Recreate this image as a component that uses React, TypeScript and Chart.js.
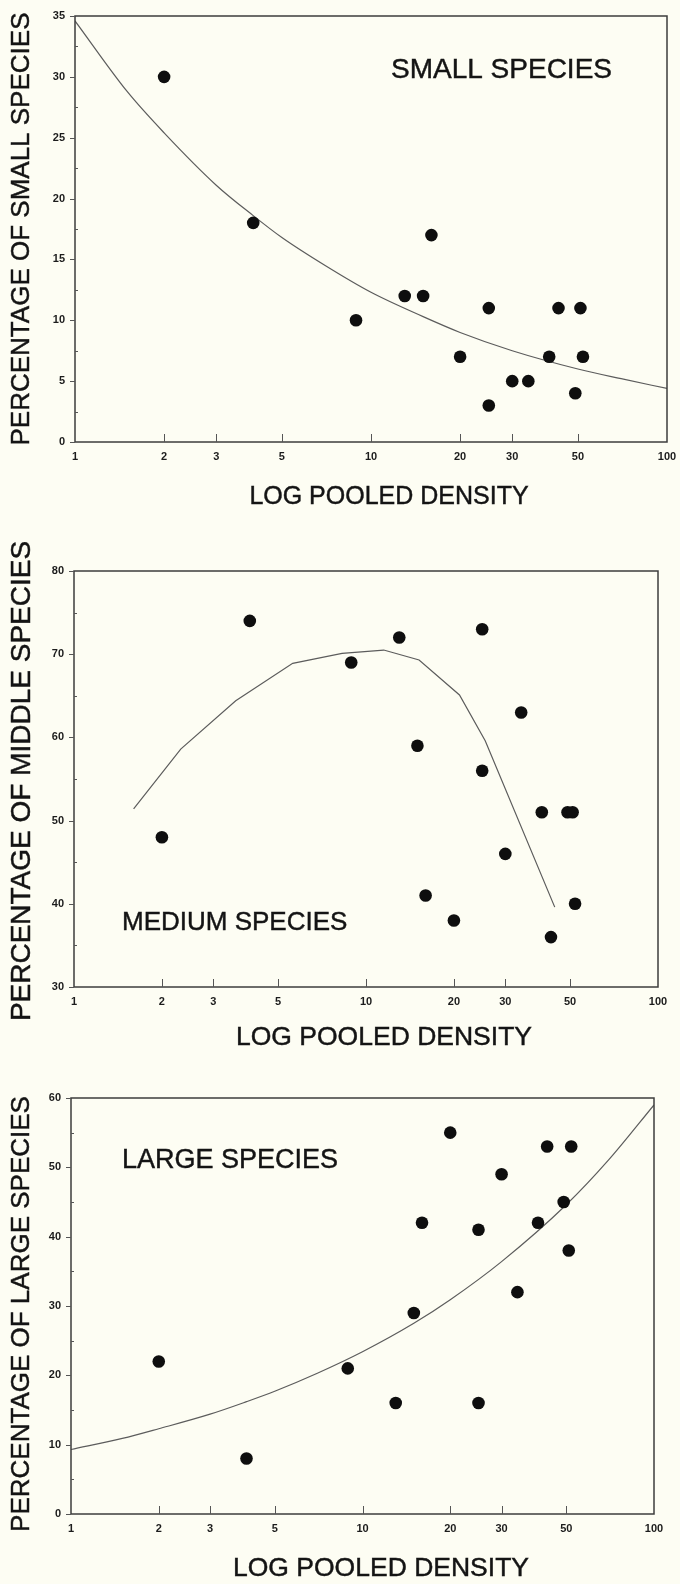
import React, { useEffect, useRef } from 'react';
import { Chart, registerables } from 'chart.js';

Chart.register(...registerables);

// ---------- data ----------
const density = [2, 4, 8.9, 13, 15, 16, 20, 25, 25, 30, 34, 40, 43, 49, 51, 52];
const smallPct = [30, 18, 10, 12, 12, 17, 7, 11, 3, 5, 5, 7, 11, 4, 11, 7];
const mediumPct = [48, 74, 69, 72, 59, 41, 38, 73, 56, 46, 63, 51, 36, 51, 51, 40];
const largePct = [22, 8, 21, 16, 29, 42, 55, 16, 41, 49, 32, 42, 53, 45, 38, 53];

const smallFitX = [1, 1.5, 2, 3, 4, 5, 7, 10, 15, 20, 30, 50, 70, 100];
const smallFitY = [34.6, 28.8, 25.4, 21.1, 18.6, 16.8, 14.5, 12.3, 10.3, 9.0, 7.5, 6.0, 5.2, 4.4];
const mediumFitX = [1.6, 2.32, 3.58, 5.61, 8.28, 11.5, 15.2, 20.9, 25.6, 44.3];
const mediumFitY = [51.4, 58.6, 64.4, 68.9, 70.1, 70.5, 69.3, 65.1, 59.6, 39.6];
const largeFitX = [1, 1.5, 2, 3, 4, 5, 7, 10, 15, 20, 30, 50, 70, 100];
const largeFitY = [9.3, 10.9, 12.3, 14.4, 16.2, 17.7, 20.3, 23.4, 27.5, 30.9, 36.4, 44.6, 51.1, 59.0];

const xTickLabels = [1, 2, 3, 5, 10, 20, 30, 50, 100];
const xTickMarks = [2, 3, 5, 10, 20, 30, 50];
const xTitle = 'LOG POOLED DENSITY';

const BG = '#fdfdf3';
const FONT = '"Liberation Sans", Arial, Helvetica, sans-serif';

type Spec = {
  top: number;
  height: number;
  area: { left: number; right: number; top: number; bottom: number };
  values: number[];
  fitX: number[];
  fitY: number[];
  smooth: boolean;
  yMin: number;
  yMax: number;
  yStep: number;
  yTitle: string;
  yTitleSize: number;
  yTitleCenter: number;
  xTitleX: number;
  xTitleY: number;
  xTitleSize: number;
  label: string;
  labelX: number;
  labelY: number;
  labelSize: number;
};

const specs: Spec[] = [
  {
    top: 0, height: 520,
    area: { left: 75, right: 667, top: 16, bottom: 442 },
    values: smallPct, fitX: smallFitX, fitY: smallFitY, smooth: true,
    yMin: 0, yMax: 35, yStep: 5,
    yTitle: 'PERCENTAGE OF SMALL SPECIES', yTitleSize: 26, yTitleCenter: 229,
    xTitleX: 389, xTitleY: 497, xTitleSize: 25,
    label: 'SMALL SPECIES', labelX: 391, labelY: 70, labelSize: 28,
  },
  {
    top: 520, height: 530,
    area: { left: 74, right: 658, top: 51, bottom: 467 },
    values: mediumPct, fitX: mediumFitX, fitY: mediumFitY, smooth: false,
    yMin: 30, yMax: 80, yStep: 10,
    yTitle: 'PERCENTAGE OF MIDDLE SPECIES', yTitleSize: 28, yTitleCenter: 261,
    xTitleX: 384, xTitleY: 518, xTitleSize: 26.5,
    label: 'MEDIUM SPECIES', labelX: 122, labelY: 403, labelSize: 26,
  },
  {
    top: 1050, height: 534,
    area: { left: 71, right: 654, top: 48, bottom: 464 },
    values: largePct, fitX: largeFitX, fitY: largeFitY, smooth: true,
    yMin: 0, yMax: 60, yStep: 10,
    yTitle: 'PERCENTAGE OF LARGE SPECIES', yTitleSize: 26, yTitleCenter: 264,
    xTitleX: 381, xTitleY: 519, xTitleSize: 26.5,
    label: 'LARGE SPECIES', labelX: 122, labelY: 111, labelSize: 27,
  },
];

function Panel({ spec }: { spec: Spec }) {
  const ref = useRef<HTMLCanvasElement>(null);

  useEffect(() => {
    const canvas = ref.current;
    if (!canvas) return;
    const s = spec;
    const W = 680;

    const heavyText = (ctx: CanvasRenderingContext2D, t: string, x: number, y: number) => {
      ctx.fillText(t, x, y);
      ctx.lineWidth = 0.45;
      ctx.strokeText(t, x, y);
    };

    const decor = {
      id: 'decor',
      afterDraw(chart: any) {
        const { ctx, chartArea: a, scales } = chart;
        ctx.save();
        // frame
        ctx.strokeStyle = '#3c3c3c';
        ctx.lineWidth = 1.5;
        ctx.strokeRect(a.left, a.top, a.right - a.left, a.bottom - a.top);
        // x tick marks (inward)
        ctx.lineWidth = 1;
        ctx.strokeStyle = '#555';
        for (const v of xTickMarks) {
          const px = Math.round(scales.x.getPixelForValue(v)) + 0.5;
          ctx.beginPath();
          ctx.moveTo(px, a.bottom);
          ctx.lineTo(px, a.bottom - 8);
          ctx.stroke();
        }
        // y major ticks (outward) and minor ticks (inward)
        for (let v = s.yMin; v <= s.yMax; v += s.yStep) {
          const py = Math.round(scales.y.getPixelForValue(v)) + 0.5;
          ctx.beginPath();
          ctx.moveTo(a.left - 5, py);
          ctx.lineTo(a.left, py);
          ctx.stroke();
          if (v + s.yStep / 2 < s.yMax) {
            const pm = Math.round(scales.y.getPixelForValue(v + s.yStep / 2)) + 0.5;
            ctx.beginPath();
            ctx.moveTo(a.left, pm);
            ctx.lineTo(a.left + 3, pm);
            ctx.stroke();
          }
        }
        // titles
        ctx.fillStyle = '#141414';
        ctx.strokeStyle = '#141414';
        ctx.textAlign = 'center';
        ctx.textBaseline = 'middle';
        ctx.font = `${s.xTitleSize}px ${FONT}`;
        heavyText(ctx, xTitle, s.xTitleX, s.xTitleY);
        ctx.save();
        ctx.translate(22, s.yTitleCenter);
        ctx.rotate(-Math.PI / 2);
        ctx.font = `${s.yTitleSize}px ${FONT}`;
        heavyText(ctx, s.yTitle, 0, 0);
        ctx.restore();
        // panel label
        ctx.textAlign = 'left';
        ctx.font = `${s.labelSize}px ${FONT}`;
        heavyText(ctx, s.label, s.labelX, s.labelY);
        ctx.restore();
      },
    };

    const chart = new Chart(canvas, {
      type: 'scatter',
      data: {
        datasets: [
          {
            type: 'scatter',
            data: density.map((x, i) => ({ x, y: s.values[i] })),
            pointRadius: 6.3,
            pointHoverRadius: 6.3,
            backgroundColor: '#0e0e0e',
            borderWidth: 0,
            order: 0,
          },
          {
            type: 'line',
            data: s.fitX.map((x, i) => ({ x, y: s.fitY[i] })),
            borderColor: '#5c5c5c',
            borderWidth: 1.2,
            pointRadius: 0,
            fill: false,
            tension: 0,
            cubicInterpolationMode: s.smooth ? 'monotone' : 'default',
            order: 1,
          } as any,
        ],
      },
      options: {
        responsive: false,
        maintainAspectRatio: false,
        animation: false,
        events: [],
        layout: {
          padding: { left: 0, top: s.area.top, right: W - s.area.right, bottom: 0 },
        },
        plugins: {
          legend: { display: false },
          tooltip: { enabled: false },
          title: { display: false },
        },
        scales: {
          x: {
            type: 'logarithmic',
            min: 1,
            max: 100,
            border: { display: false },
            grid: { display: false, drawTicks: false },
            afterBuildTicks: (scale: any) => {
              scale.ticks = xTickLabels.map((v) => ({ value: v }));
            },
            afterFit: (scale: any) => {
              scale.height = s.height - s.area.bottom;
              scale.paddingLeft = 0;
              scale.paddingRight = 0;
              scale.paddingTop = 0;
              scale.paddingBottom = 0;
            },
            ticks: {
              autoSkip: false,
              maxRotation: 0,
              padding: 8,
              color: '#1c1c1c',
              font: { family: FONT, size: 11, weight: 'bold' },
              callback: (v: any) => String(v),
            },
          },
          y: {
            type: 'linear',
            min: s.yMin,
            max: s.yMax,
            border: { display: false },
            grid: { display: false, drawTicks: false },
            afterFit: (scale: any) => {
              scale.width = s.area.left;
              scale.paddingTop = 0;
              scale.paddingBottom = 0;
              scale.paddingLeft = 0;
              scale.paddingRight = 0;
            },
            ticks: {
              stepSize: s.yStep,
              padding: 10,
              color: '#1c1c1c',
              font: { family: FONT, size: 11, weight: 'bold' },
            },
          },
        },
      },
      plugins: [decor],
    });
    return () => chart.destroy();
  }, [spec]);

  return (
    <div style={{ position: 'absolute', left: 0, top: spec.top, width: 680, height: spec.height }}>
      <canvas ref={ref} width={680} height={spec.height} style={{ display: 'block', width: 680, height: spec.height }} />
    </div>
  );
}

export default function App() {
  return (
    <div style={{ position: 'absolute', left: 0, top: 0, width: 680, height: 1584, background: BG, overflow: 'hidden' }}>
      {specs.map((s, i) => (
        <Panel key={i} spec={s} />
      ))}
    </div>
  );
}
